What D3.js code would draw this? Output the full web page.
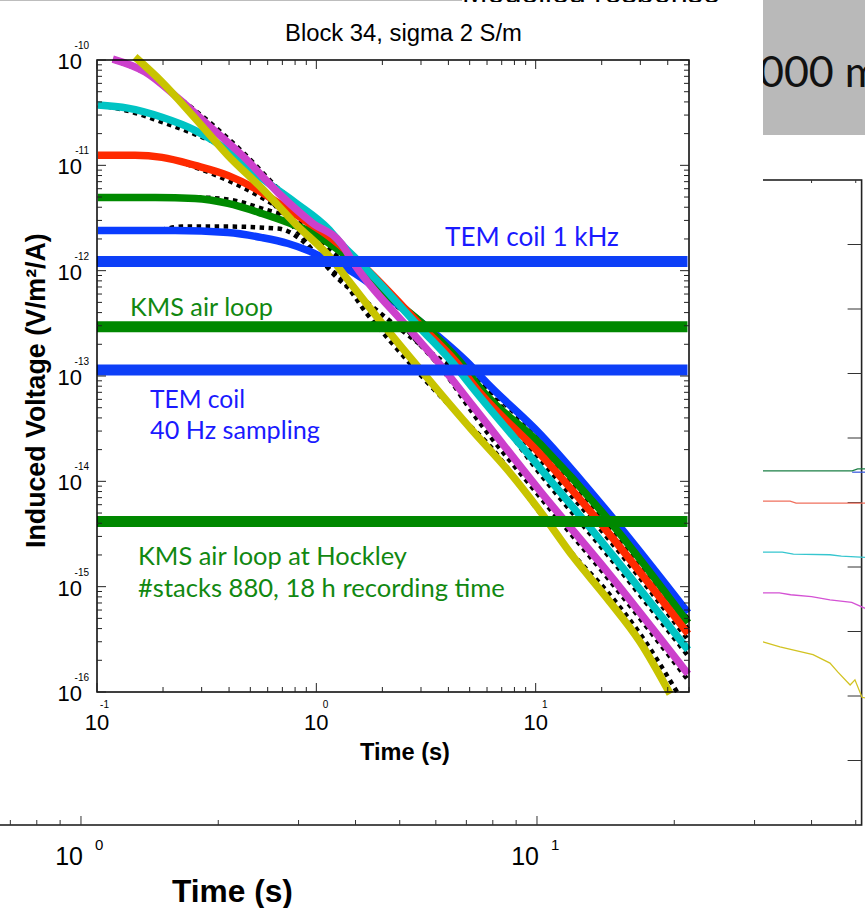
<!DOCTYPE html>
<html>
<head>
<meta charset="utf-8">
<script src="https://cdn.jsdelivr.net/npm/d3@7/dist/d3.min.js"></script>
<style>
body { margin: 0; background: #fff; }
svg { display: block; }
</style>
</head>
<body>
<svg id="chart" width="865" height="908"></svg>
<script>
// ---- main chart data: time (s), induced voltage (V/m2/A) ----
var blueData = [[0.101,2.40e-12],[0.227,2.40e-12],[0.395,2.30e-12],[0.565,2.06e-12],[0.743,1.81e-12],[0.917,1.55e-12],[1.10,1.30e-12],[1.43,1.00e-12],[2.17,5.41e-13],[3.23,2.86e-13],[5.18,1.19e-13],[5.76,9.36e-14],[10.5,2.80e-14],[21.2,5.18e-15],[49.5,5.65e-16]];
var greenData = [[0.101,4.96e-12],[0.184,4.96e-12],[0.280,4.85e-12],[0.395,4.35e-12],[0.565,3.49e-12],[0.743,2.86e-12],[0.955,2.30e-12],[1.31,1.48e-12],[2.06,6.17e-13],[3.20,2.86e-13],[4.77,1.19e-13],[5.35,8.57e-14],[10.5,2.25e-14],[21.2,4.45e-15],[49.5,4.54e-16]];
var redData = [[0.101,1.245e-11],[0.149,1.245e-11],[0.198,1.19e-11],[0.280,1.00e-11],[0.395,8.03e-12],[0.525,6.04e-12],[0.698,4.16e-12],[0.917,2.86e-12],[1.13,2.15e-12],[1.58,1.19e-12],[3.07,2.86e-13],[4.57,1.19e-13],[5.13,8.57e-14],[10.5,1.81e-14],[21.2,3.34e-15],[49.5,3.57e-16]];
var cyanData = [[0.101,3.73e-11],[0.138,3.49e-11],[0.198,2.86e-11],[0.280,2.15e-11],[0.395,1.39e-11],[0.565,7.52e-12],[0.800,4.45e-12],[1.13,2.51e-12],[1.32,1.73e-12],[1.55,1.245e-12],[2.97,2.86e-13],[4.38,1.19e-13],[4.87,8.96e-14],[10.5,1.33e-14],[21.2,2.30e-15],[49.5,2.51e-16]];
var magentaData = [[0.118,1.02e-10],[0.166,7.69e-11],[0.234,4.35e-11],[0.334,2.25e-11],[0.473,1.17e-11],[0.668,5.53e-12],[0.955,2.86e-12],[1.31,1.77e-12],[1.455,1.245e-12],[2.62,2.86e-13],[3.78,1.19e-13],[5.18,5.18e-14],[10.5,8.03e-15],[21.2,1.39e-15],[49.5,1.48e-16]];
var yellowData = [[0.149,1.07e-10],[0.198,6.17e-11],[0.280,2.80e-11],[0.395,1.245e-11],[0.565,6.04e-12],[0.800,2.80e-12],[1.192,1.245e-12],[1.38,8.39e-13],[1.952,3.34e-13],[2.76,1.39e-13],[3.94,5.78e-14],[5.18,2.99e-14],[7.41,1.30e-14],[10.5,5.18e-15],[14.8,1.93e-15],[21.2,7.69e-16],[29.9,2.99e-16],[41.0,0.96e-16]];

// model curves (dotted)
var blueModel = [[0.101,2.40e-12],[0.180,2.40e-12],[0.244,2.62e-12],[0.395,2.62e-12],[0.668,2.51e-12],[0.861,1.93e-12],[1.018,1.36e-12],[1.217,8.96e-13],[1.668,5.18e-13],[2.408,2.80e-13],[3.66,1.45e-13],[5.76,8.21e-14],[10.5,2.46e-14],[21.2,4.54e-15],[49.5,4.96e-16]];
var greenModel = [[0.101,4.96e-12],[0.280,4.96e-12],[0.395,4.74e-12],[0.565,3.89e-12],[0.759,3.13e-12],[1.018,1.93e-12],[1.352,1.19e-12],[1.952,6.17e-13],[3.20,2.68e-13],[5.02,1.07e-13],[10.5,1.97e-14],[21.2,3.89e-15],[49.5,3.98e-16]];
var redModel = [[0.101,1.245e-11],[0.198,1.19e-11],[0.280,9.60e-12],[0.395,7.20e-12],[0.542,5.18e-12],[0.719,3.65e-12],[0.955,2.51e-12],[1.283,1.48e-12],[1.757,8.39e-13],[2.97,2.86e-13],[4.77,1.045e-13],[10.5,1.58e-14],[21.2,2.93e-15],[49.5,3.13e-16]];
var cyanModel = [[0.101,3.73e-11],[0.138,3.30e-11],[0.198,2.57e-11],[0.280,1.97e-11],[0.404,1.39e-11],[0.583,7.52e-12],[0.825,4.25e-12],[1.155,2.30e-12],[1.582,1.19e-12],[2.408,4.96e-13],[4.07,1.66e-13],[10.5,1.17e-14],[21.2,2.02e-15],[49.5,2.20e-16]];
var magentaModel = [[0.118,1.00e-10],[0.166,7.51e-11],[0.234,4.44e-11],[0.334,2.46e-11],[0.473,1.27e-11],[0.668,6.04e-12],[0.955,3.06e-12],[1.352,1.48e-12],[1.952,6.17e-13],[2.62,2.68e-13],[3.86,1.07e-13],[5.18,4.40e-14],[10.5,7.04e-15],[21.2,1.22e-15],[49.5,1.30e-16]];
var yellowModel = [[0.565,5.78e-12],[0.800,2.51e-12],[1.073,1.19e-12],[1.32,8.03e-13],[1.702,3.89e-13],[2.17,2.15e-13],[3.07,9.57e-14],[4.38,4.44e-14],[6.20,2.15e-14],[10.5,4.96e-15],[14.8,2.02e-15],[21.2,8.96e-16],[29.9,3.57e-16],[44.1,1.00e-16]];

// noise levels
var levelValues = [1.22e-12, 2.93e-13, 1.14e-13, 4.16e-15];
var levelSpan = [0.1, 49.2];

// annotations
var noteText = ["TEM coil 1 kHz", "KMS air loop", "TEM coil", "40 Hz sampling", "KMS air loop at Hockley", "#stacks 880, 18 h recording time"];
var noteAt = [[3.86,1.73e-12],[0.1414,3.73e-13],[0.1745,4.96e-14],[0.1745,2.51e-14],[0.1538,1.62e-15],[0.1538,8.03e-16]];

var xDecades = [0.1, 1, 10];
var yDecades = [1e-16, 1e-15, 1e-14, 1e-13, 1e-12, 1e-11, 1e-10];

// ---- background slide chart data: time (s), value ----
var bgGreen = [[28,5.49],[49.1,5.49],[50.5,5.52],[52.4,5.52]];
var bgBlue = [[49.1,5.47],[52.4,5.47]];
var bgRed = [[28,5.02],[35.9,5.02],[37.0,4.99],[52.4,4.99]];
var bgCyan = [[28,4.23],[34.5,4.23],[36.5,4.20],[43.9,4.19],[46.5,4.17],[52.4,4.15]];
var bgMagenta = [[28,3.60],[34.0,3.60],[36.0,3.57],[40.0,3.54],[43.9,3.49],[49.0,3.45],[52.4,3.36]];
var bgYellow = [[28,2.86],[31.3,2.84],[34.1,2.76],[40.3,2.64],[43.9,2.51],[45.7,2.37],[48.6,2.17],[49.8,2.25],[51.6,1.98],[52.4,1.97]];
var bgDecades = [1, 10];

var svg = d3.select("#chart");
var sans = "'Liberation Sans', Arial, Helvetica, sans-serif";
var calib = "Lato, 'Open Sans', sans-serif";

function isDecade(d) {
    var l = Math.log10(d);
    return Math.abs(l - Math.round(l)) < 1e-6;
}

// scale a text's font so that it spans the given width
function fit(t, w) {
    var n = t.node().getComputedTextLength();
    var fs = parseFloat(t.attr("font-size"));
    if (n > 0) t.attr("font-size", fs * w / n);
    return t;
}

// ================= background slide =================
var bg = svg.append("g");

bg.append("rect").attr("x", 763).attr("y", 0).attr("width", 102).attr("height", 135)
    .attr("fill", "#b9b9b9");
bg.append("text").attr("x", 734).attr("y", 87)
    .attr("font-family", calib).attr("font-size", 43).attr("fill", "#111")
    .text("1000 m");
fit(bg.append("text").attr("x", 462).attr("y", 3)
    .attr("font-family", sans).attr("font-size", 40).attr("fill", "#000")
    .text("Modelled response"), 258);

var bx = d3.scaleLog().domain([0.5, 51.5]).range([-56.3, 861.6]);
var by = d3.scaleLinear().domain([0, 10]).range([825, 180]);

bg.append("rect")
    .attr("x", bx(0.5)).attr("y", by(10))
    .attr("width", bx(51.5) - bx(0.5)).attr("height", by(0) - by(10))
    .attr("fill", "none").attr("stroke", "#222").attr("stroke-width", 1.6);

bx.ticks().forEach(function(d) {
    var len = isDecade(d) ? 9 : 5;
    bg.append("line").attr("x1", bx(d)).attr("x2", bx(d))
        .attr("y1", by(0)).attr("y2", by(0) - len)
        .attr("stroke", "#333").attr("stroke-width", 1);
    bg.append("line").attr("x1", bx(d)).attr("x2", bx(d))
        .attr("y1", by(10)).attr("y2", by(10) + len - 2)
        .attr("stroke", "#333").attr("stroke-width", 1);
});
by.ticks(10).filter(function(d) { return d > 0 && d < 10; }).forEach(function(d) {
    bg.append("line").attr("x1", bx(51.5)).attr("x2", bx(51.5) - 14)
        .attr("y1", by(d)).attr("y2", by(d))
        .attr("stroke", "#333").attr("stroke-width", 1);
});

bgDecades.forEach(function(d) {
    bg.append("text").attr("x", bx(d) + 2).attr("y", 865)
        .attr("text-anchor", "end").attr("font-family", sans).attr("font-size", 25)
        .text("10");
    bg.append("text").attr("x", bx(d) + 14).attr("y", 850)
        .attr("font-family", sans).attr("font-size", 15)
        .text(Math.round(Math.log10(d)));
});
fit(bg.append("text").attr("x", 172).attr("y", 902)
    .attr("font-family", sans).attr("font-weight", "bold").attr("font-size", 30)
    .text("Time (s)"), 121);

var bgLine = d3.line().x(function(d) { return bx(d[0]); }).y(function(d) { return by(d[1]); });
[[bgBlue, "#4060e0"], [bgGreen, "#1b7f45"], [bgRed, "#f0705e"], [bgCyan, "#36c6cf"],
 [bgMagenta, "#d452d4"], [bgYellow, "#d2c322"]].forEach(function(s) {
    bg.append("path").datum(s[0]).attr("d", bgLine)
        .attr("fill", "none").attr("stroke", s[1]).attr("stroke-width", 1.3);
});

// ================= overlay chart =================
svg.append("rect").attr("x", 0).attr("y", 2).attr("width", 763).attr("height", 810)
    .attr("fill", "#fff");
svg.append("line").attr("x1", 0).attr("x2", 462).attr("y1", 0.5).attr("y2", 0.5)
    .attr("stroke", "#bdbdbd").attr("stroke-width", 1);

var main = svg.append("g");
var x = d3.scaleLog().domain([0.1, 50]).range([97, 689]);
var y = d3.scaleLog().domain([1e-16, 1e-10]).range([692, 60]);

var line = d3.line()
    .x(function(d) { return x(d[0]); })
    .y(function(d) { return y(d[1]); })
    .curve(d3.curveMonotoneX);

var series = [
    [blueData, blueModel, "#0a3cff"],
    [greenData, greenModel, "#008a00"],
    [redData, redModel, "#ff2a00"],
    [cyanData, cyanModel, "#00c4c4"],
    [magentaData, magentaModel, "#cc40cc"],
    [yellowData, yellowModel, "#c8c400"]
];

// models first, measured curves on top
series.forEach(function(s) {
    main.append("path").datum(s[1]).attr("d", line)
        .attr("fill", "none").attr("stroke", "#000").attr("stroke-width", 4.5)
        .attr("stroke-dasharray", "4.5,4.5");
});
series.forEach(function(s) {
    main.append("path").datum(s[0]).attr("d", line)
        .attr("fill", "none").attr("stroke", s[2]).attr("stroke-width", 7.5);
});

// noise level bands
var bandColors = ["#0d3ff7", "#008800", "#0d3ff7", "#008800"];
main.selectAll(".level").data(levelValues).enter().append("line")
    .attr("class", "level")
    .attr("x1", x(levelSpan[0])).attr("x2", x(levelSpan[1]))
    .attr("y1", function(d) { return y(d); }).attr("y2", function(d) { return y(d); })
    .attr("stroke", function(d, i) { return bandColors[i]; })
    .attr("stroke-width", 11);

// annotations
var noteColors = ["#1a1aff", "#118811", "#1a1aff", "#1a1aff", "#118811", "#118811"];
var noteWidths = [174, 143, 95, 170, 269, 367];
noteText.forEach(function(t, i) {
    fit(main.append("text")
        .attr("x", x(noteAt[i][0])).attr("y", y(noteAt[i][1]))
        .attr("font-family", calib).attr("font-size", 24)
        .attr("fill", noteColors[i])
        .text(t), noteWidths[i]);
});

// frame and ticks
main.append("rect").attr("x", 97).attr("y", 60)
    .attr("width", x(50) - x(0.1)).attr("height", y(1e-16) - y(1e-10))
    .attr("fill", "none").attr("stroke", "#000").attr("stroke-width", 1.5);

x.ticks().forEach(function(d) {
    var len = isDecade(d) ? 9 : 5;
    main.append("line").attr("x1", x(d)).attr("x2", x(d))
        .attr("y1", y(1e-16)).attr("y2", y(1e-16) - len)
        .attr("stroke", "#222").attr("stroke-width", 1);
    main.append("line").attr("x1", x(d)).attr("x2", x(d))
        .attr("y1", y(1e-10)).attr("y2", y(1e-10) + len)
        .attr("stroke", "#222").attr("stroke-width", 1);
});
y.ticks().forEach(function(d) {
    var len = isDecade(d) ? 9 : 5;
    main.append("line").attr("x1", x(0.1)).attr("x2", x(0.1) + len)
        .attr("y1", y(d)).attr("y2", y(d))
        .attr("stroke", "#222").attr("stroke-width", 1);
    main.append("line").attr("x1", x(50)).attr("x2", x(50) - len)
        .attr("y1", y(d)).attr("y2", y(d))
        .attr("stroke", "#222").attr("stroke-width", 1);
});

// decade labels
yDecades.forEach(function(d) {
    main.append("text").attr("x", x(0.1) - 15).attr("y", y(d) + 9)
        .attr("text-anchor", "end").attr("font-family", sans).attr("font-size", 22)
        .text("10");
    main.append("text").attr("x", x(0.1) - 8).attr("y", y(d) - 11)
        .attr("text-anchor", "end").attr("font-family", sans).attr("font-size", 10)
        .text(Math.round(Math.log10(d)));
});
xDecades.forEach(function(d) {
    main.append("text").attr("x", x(d)).attr("y", 730)
        .attr("text-anchor", "middle").attr("font-family", sans).attr("font-size", 22)
        .text("10");
    main.append("text").attr("x", x(d) + 12).attr("y", 708)
        .attr("text-anchor", "end").attr("font-family", sans).attr("font-size", 10)
        .text(Math.round(Math.log10(d)));
});

// titles
fit(main.append("text").attr("x", 285).attr("y", 41)
    .attr("font-family", sans).attr("font-size", 22)
    .text("Block 34, sigma 2 S/m"), 237);
fit(main.append("text").attr("x", 360).attr("y", 760)
    .attr("font-family", sans).attr("font-weight", "bold").attr("font-size", 22)
    .text("Time (s)"), 90);
var yl = main.append("text")
    .attr("transform", "translate(45,548) rotate(-90)")
    .attr("font-family", sans).attr("font-weight", "bold").attr("font-size", 22)
    .text("Induced Voltage (V/m\u00b2/A)");
fit(yl, 315);
</script>
</body>
</html>
